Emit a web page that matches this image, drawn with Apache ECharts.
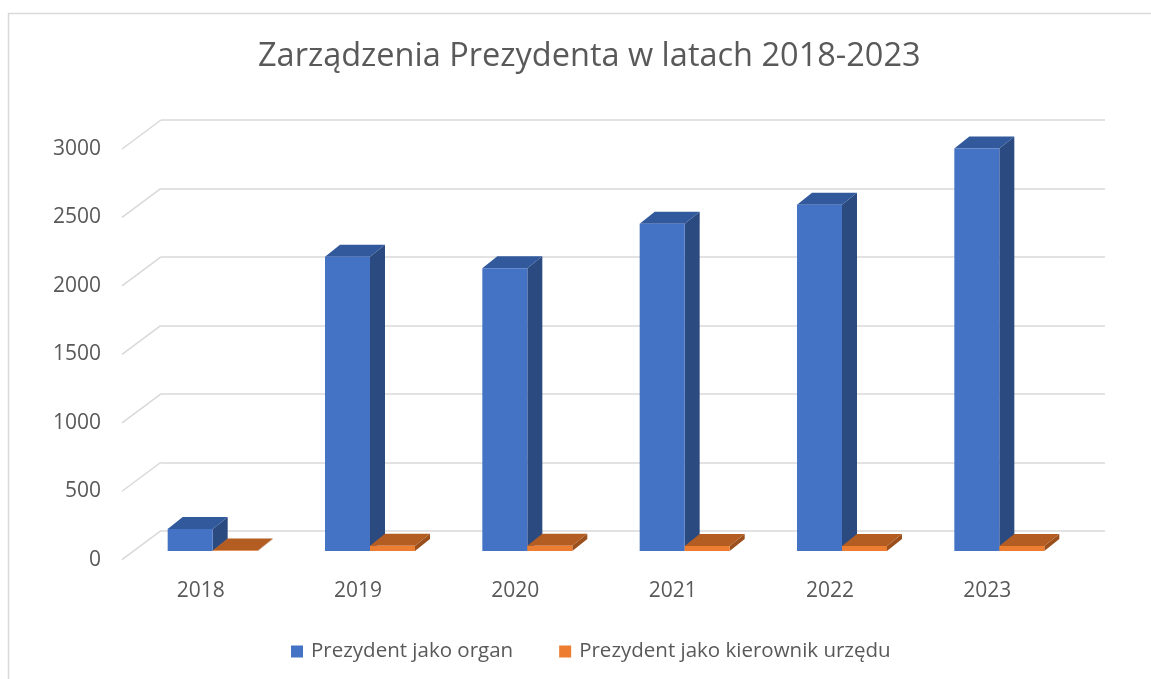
<!DOCTYPE html>
<html>
<head>
<meta charset="utf-8">
<script src="https://cdn.jsdelivr.net/npm/echarts@6/dist/echarts.min.js"></script>
<style>
    html, body { margin: 0; padding: 0; background: #fff; }
    #chart { width: 1151px; height: 679px; }
</style>
</head>
<body>
<div id="chart"></div>
<script>
    var years = ['2018', '2019', '2020', '2021', '2022', '2023'];
    var organ = [160, 2150, 2065, 2390, 2530, 2940];
    var kierownik = [3, 38, 38, 37, 36, 37];
    var yTicks = [0, 500, 1000, 1500, 2000, 2500, 3000];
    var names = ['Prezydent jako organ', 'Prezydent jako kierownik urzędu'];

    var FONT = '"Open Sans", "Noto Sans", sans-serif';
    var TXT = '#595959';

    // przesuniecia w px: czolo slupka wzgledem tylnej sciany, glebokosc slupka, glebokosc podlogi
    var FRONT = [-27, 20.3];
    var DEPTH = [15, -12];
    var WALL = [-39, 29];

    var faces = [
        {front: '#4472C4', side: '#2B4A80', top: '#31599C'},
        {front: '#ED7D31', side: '#9A4F1C', top: '#B45D22'}
    ];

    function bar3d(slot) {
        return function (params, api) {
            var i = api.value(0), v = api.value(1);
            var bw = api.size([1, 0])[0] * 0.286;
            var base = api.coord([i + 0.5, 0]);
            var top = api.coord([i + 0.5, v]);
            var x0 = base[0] - bw + slot * bw + FRONT[0];
            var x1 = x0 + bw;
            var yb = base[1] + FRONT[1];
            var yt = top[1] + FRONT[1];
            var dx = DEPTH[0], dy = DEPTH[1];
            var c = faces[slot];
            return {
                type: 'group',
                children: [
                    {type: 'polygon', shape: {points: [[x1, yt], [x1 + dx, yt + dy], [x1 + dx, yb + dy], [x1, yb]]},
                        style: {fill: c.side}},
                    {type: 'polygon', shape: {points: [[x0, yt], [x1, yt], [x1 + dx, yt + dy], [x0 + dx, yt + dy]]},
                        style: {fill: c.top}},
                    {type: 'rect', shape: {x: x0, y: yt, width: bw, height: yb - yt},
                        style: {fill: c.front}}
                ]
            };
        };
    }

    function wallLines(params, api) {
        var p = api.coord([0, api.value(0)]);
        return {
            type: 'line',
            shape: {x1: p[0], y1: p[1], x2: p[0] + WALL[0], y2: p[1] + WALL[1]},
            style: {stroke: '#d9d9d9', lineWidth: 1.5}
        };
    }

    var chart = echarts.init(document.getElementById('chart'));

    var option = {
        backgroundColor: '#fff',
        animation: false,
        title: {
            text: 'Zarządzenia Prezydenta w latach 2018-2023',
            left: 253,
            top: 35,
            textStyle: {fontFamily: FONT, fontSize: 32.5, fontWeight: 'normal', color: TXT}
        },
        legend: {
            data: names,
            top: 636,
            left: 286,
            icon: 'rect',
            itemWidth: 12,
            itemHeight: 12,
            itemGap: 46,
            textStyle: {fontFamily: FONT, fontSize: 20.5, color: TXT, padding: [0, 0, 0, 3]}
        },
        graphic: [{
            type: 'rect',
            shape: {x: 8.5, y: 13.5, width: 1200, height: 700},
            style: {fill: 'none', stroke: '#d9d9d9', lineWidth: 1.5},
            silent: true
        }],
        grid: [
            // plaszczyzna przednia (opisy osi)
            {left: 122, right: 85, top: 149, bottom: 119.3},
            // tylna sciana (linie siatki, slupki)
            {left: 161, right: 46, top: 120, bottom: 148.3}
        ],
        xAxis: [
            {
                gridIndex: 0, type: 'category', data: years,
                axisLine: {show: false}, axisTick: {show: false},
                axisLabel: {margin: 21, fontFamily: FONT, fontSize: 21, color: TXT}
            },
            {gridIndex: 1, type: 'value', min: 0, max: 6, show: false}
        ],
        yAxis: [
            {
                gridIndex: 0, type: 'value', min: 0, max: 3000, interval: 500,
                axisLine: {show: false}, axisTick: {show: false}, splitLine: {show: false},
                axisLabel: {margin: 21, fontFamily: FONT, fontSize: 21, color: TXT,
                    formatter: function (v) { return String(v); }}
            },
            {
                gridIndex: 1, type: 'value', min: 0, max: 3000, interval: 500,
                axisLine: {show: false}, axisTick: {show: false}, axisLabel: {show: false},
                splitLine: {lineStyle: {color: '#d9d9d9', width: 1.5}}
            }
        ],
        series: [
            {
                type: 'custom', name: 'wall', xAxisIndex: 1, yAxisIndex: 1,
                data: yTicks.map(function (v) { return [v]; }),
                renderItem: wallLines, silent: true, z: 1
            },
            {
                type: 'custom', name: names[0], xAxisIndex: 1, yAxisIndex: 1,
                itemStyle: {color: faces[0].front},
                data: organ.map(function (v, i) { return [i, v]; }),
                renderItem: bar3d(0), z: 2
            },
            {
                type: 'custom', name: names[1], xAxisIndex: 1, yAxisIndex: 1,
                itemStyle: {color: faces[1].front},
                data: kierownik.map(function (v, i) { return [i, v]; }),
                renderItem: bar3d(1), z: 3
            }
        ]
    };

    chart.setOption(option);
</script>
</body>
</html>
